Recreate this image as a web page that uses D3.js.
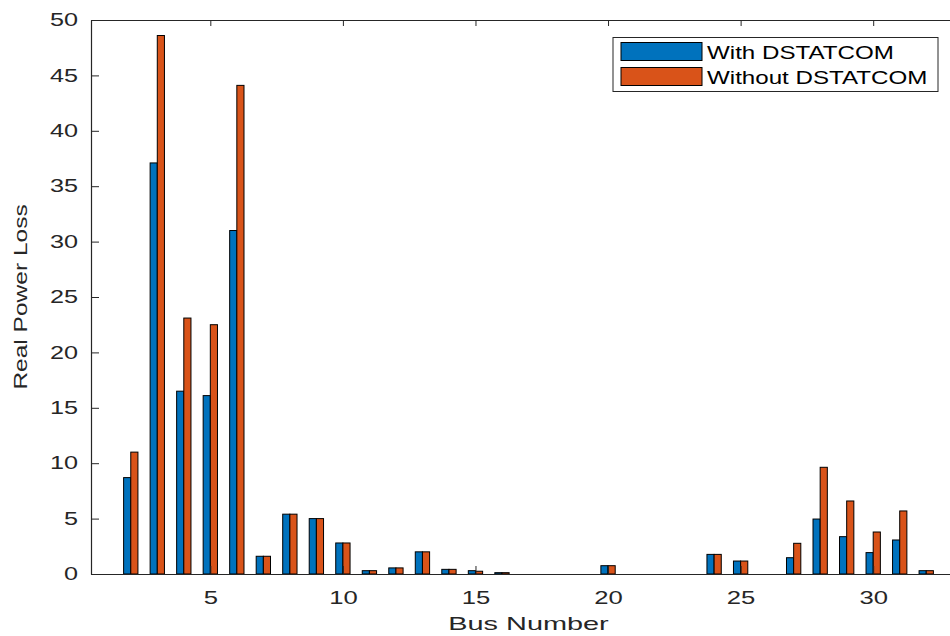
<!DOCTYPE html>
<html>
<head>
<meta charset="utf-8">
<script src="https://cdn.jsdelivr.net/npm/d3@7"></script>
<style>
  html, body { margin: 0; padding: 0; background: #fff; }
  svg text { font-family: "Liberation Sans", Arial, Helvetica, sans-serif; }
</style>
</head>
<body>
<svg id="chart" width="950" height="636"></svg>
<script>
// ---- data ----
const buses = d3.range(1, 33);
const withDSTATCOM = [0, 8.7, 37.1, 16.5, 16.1, 31.0, 1.6, 5.4, 5.0, 2.8, 0.3, 0.55, 2.0, 0.42, 0.3, 0.12,
  0, 0, 0, 0.75, 0, 0, 0, 1.77, 1.17, 0, 1.47, 4.96, 3.37, 1.93, 3.07, 0.3];
const withoutDSTATCOM = [0, 11.0, 48.6, 23.1, 22.5, 44.1, 1.6, 5.4, 5.0, 2.8, 0.3, 0.55, 2.0, 0.42, 0.25, 0.12,
  0, 0, 0, 0.75, 0, 0, 0, 1.77, 1.17, 0, 2.77, 9.63, 6.59, 3.79, 5.69, 0.3];
const seriesNames = ["With DSTATCOM", "Without DSTATCOM"];
const seriesColors = ["#0072BD", "#D95319"];
const yTicks = [0, 5, 10, 15, 20, 25, 30, 35, 40, 45, 50];
const xTicks = [5, 10, 15, 20, 25, 30];
const xLabel = "Bus Number";
const yLabel = "Real Power Loss";

// ---- layout ----
const svg = d3.select("#chart");
const mLeft = 91, mRight = 966, mTop = 20, mBottom = 574;
const axisColor = "#262626";

const x = d3.scaleLinear().domain([0.5, 33.5]).range([mLeft, mRight]);
const y = d3.scaleLinear().domain([0, 50]).range([mBottom, mTop]);

const barW = x(0.27) - x(0);
const offsets = [-barW, 0];

// widen a text element horizontally (the reference text is drawn wide)
function widen(sel, f) {
  sel.each(function () {
    const len = this.getComputedTextLength();
    d3.select(this).attr("textLength", len * f).attr("lengthAdjust", "spacingAndGlyphs");
  });
}

const data = [withDSTATCOM, withoutDSTATCOM];
data.forEach((vals, si) => {
  svg.append("g").selectAll("rect")
    .data(buses.map((b, i) => ({ b, v: vals[i] })).filter(d => d.v > 0))
    .join("rect")
    .attr("x", d => x(d.b) + offsets[si])
    .attr("y", d => y(d.v))
    .attr("width", barW)
    .attr("height", d => y(0) - y(d.v))
    .attr("fill", seriesColors[si])
    .attr("stroke", "#000")
    .attr("stroke-width", 1);
});

// axes
const tickLen = 8;
const gx = svg.append("g").attr("transform", `translate(0,${mBottom})`)
  .call(d3.axisBottom(x).tickValues(xTicks).tickSize(-tickLen).tickPadding(17).tickSizeOuter(0));
const gxt = svg.append("g").attr("transform", `translate(0,${mTop})`)
  .call(d3.axisTop(x).tickValues(xTicks).tickSize(-6).tickFormat("").tickSizeOuter(0));
const gy = svg.append("g").attr("transform", `translate(${mLeft},0)`)
  .call(d3.axisLeft(y).tickValues(yTicks).tickSize(-tickLen).tickPadding(13).tickSizeOuter(0));

[gx, gxt, gy].forEach(g => {
  g.select(".domain").attr("stroke", axisColor).attr("stroke-width", 1.2);
  g.selectAll(".tick line").attr("stroke", axisColor);
  g.selectAll(".tick text").attr("fill", axisColor)
    .style("font-family", '"Liberation Sans", Arial, Helvetica, sans-serif');
});
gx.selectAll(".tick text").style("font-size", "19px");
gy.selectAll(".tick text").style("font-size", "18px");
widen(gx.selectAll(".tick text"), 1.35);
widen(gy.selectAll(".tick text"), 1.4);

// axis titles
const xt = svg.append("text")
  .attr("x", (mLeft + mRight) / 2).attr("y", 630)
  .attr("text-anchor", "middle").attr("fill", axisColor)
  .style("font-size", "19px").text(xLabel);
widen(xt, 1.52);
const yt = svg.append("text")
  .attr("transform", `translate(27,${(mTop + mBottom) / 2}) rotate(-90)`)
  .attr("text-anchor", "middle").attr("fill", axisColor)
  .style("font-size", "19px").text(yLabel);
widen(yt, 1.29);

// legend
const lg = svg.append("g");
lg.append("rect").attr("x", 613).attr("y", 37.5).attr("width", 325).attr("height", 54)
  .attr("fill", "#fff").attr("stroke", axisColor).attr("stroke-width", 1);
seriesNames.forEach((name, i) => {
  const yy = 42.5 + i * 25;
  lg.append("rect").attr("x", 621).attr("y", yy).attr("width", 81).attr("height", 18)
    .attr("fill", seriesColors[i]).attr("stroke", "#000").attr("stroke-width", 1);
  const t = lg.append("text").attr("x", 707).attr("y", yy + 16.5).attr("fill", "#000")
    .style("font-size", "19px").text(name);
  widen(t, 1.27);
});
</script>
</body>
</html>
